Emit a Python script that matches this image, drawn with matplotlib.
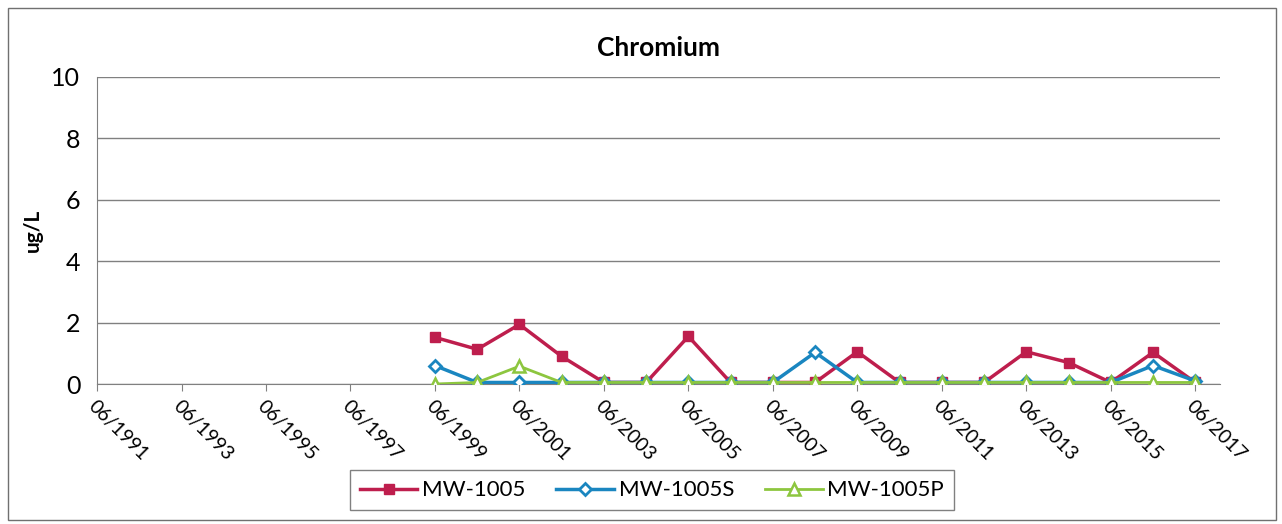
import datetime as dt
import matplotlib
matplotlib.use("Agg")
import matplotlib.pyplot as plt
import matplotlib.dates as mdates
from matplotlib.patches import Rectangle

plt.rcParams['font.family'] = ['Lato', 'DejaVu Sans']

years = list(range(1999, 2018))
mw1005 = [1.52, 1.13, 1.94, 0.90, 0.05, 0.05, 1.55, 0.05, 0.05, 0.05,
          1.05, 0.05, 0.05, 0.05, 1.05, 0.70, 0.05, 1.03, 0.05]
mw1005s = [0.60, 0.05, 0.05, 0.05, 0.05, 0.05, 0.05, 0.05, 0.05, 1.03,
           0.05, 0.05, 0.05, 0.05, 0.05, 0.05, 0.05, 0.60, 0.10]
mw1005p = [0.00, 0.05, 0.58, 0.05, 0.05, 0.05, 0.05, 0.05, 0.05, 0.05,
           0.05, 0.05, 0.05, 0.05, 0.05, 0.05, 0.05, 0.05, 0.05]
tick_years = list(range(1991, 2018, 2))

dates = [dt.date(y, 6, 1) for y in years]
ticks = [dt.date(y, 6, 1) for y in tick_years]

fig = plt.figure(figsize=(12.82, 5.24), dpi=100)
ax = fig.add_axes([97/1282, 1 - 384/524, (1220-97)/1282, (384-77)/524])

ax.plot(dates, mw1005, color='#BE1E4D', lw=2.5, marker='s', ms=7,
        mfc='#BE1E4D', mec='#BE1E4D', label='MW-1005', zorder=3)
ax.plot(dates, mw1005s, color='#1A86C0', lw=2.5, marker='D', ms=6.5,
        mfc='white', mec='#1A86C0', mew=2, label='MW-1005S', zorder=4)
ax.plot(dates, mw1005p, color='#8DC63F', lw=2, marker='^', ms=8,
        mfc='white', mec='#8DC63F', mew=1.8, label='MW-1005P', zorder=5)

ax.set_xlim(dt.date(1991, 6, 1), dt.date(2018, 1, 1))
ax.set_ylim(0, 10)
ax.set_yticks([0, 2, 4, 6, 8, 10])
ax.set_xticks(ticks)
ax.xaxis.set_major_formatter(mdates.DateFormatter('%m/%Y'))
for lbl in ax.get_xticklabels():
    lbl.set_rotation(-45)
    lbl.set_ha('left')
    lbl.set_va('top')
    lbl.set_rotation_mode('anchor')
ax.tick_params(axis='x', labelsize=14, length=5, color='#808080', pad=5)
ax.tick_params(axis='y', labelsize=18, length=0, pad=12)
ax.grid(axis='y', color='#808080', lw=1)
for s in ['top', 'right']:
    ax.spines[s].set_visible(False)
ax.spines['left'].set_color('#808080')
ax.spines['bottom'].set_color('#808080')
ax.set_axisbelow(True)

ax.set_ylabel('ug/L', fontsize=15, fontweight='bold', labelpad=6)
ax.set_title('Chromium', fontsize=19, fontweight='bold', pad=15)

leg = ax.legend(loc='upper center', bbox_to_anchor=(0.494, -0.245), ncol=3,
                fontsize=16, frameon=True, fancybox=False, edgecolor='#606060',
                handlelength=2.6, handletextpad=0.2, columnspacing=1.4,
                borderpad=0.45)
leg.get_frame().set_linewidth(1)

fig.patches.append(Rectangle((8/1282, 1 - 520/524), 1268/1282, 512/524,
                             transform=fig.transFigure, fill=False,
                             edgecolor='#707070', lw=1))

fig.savefig('out.png', dpi=100)
